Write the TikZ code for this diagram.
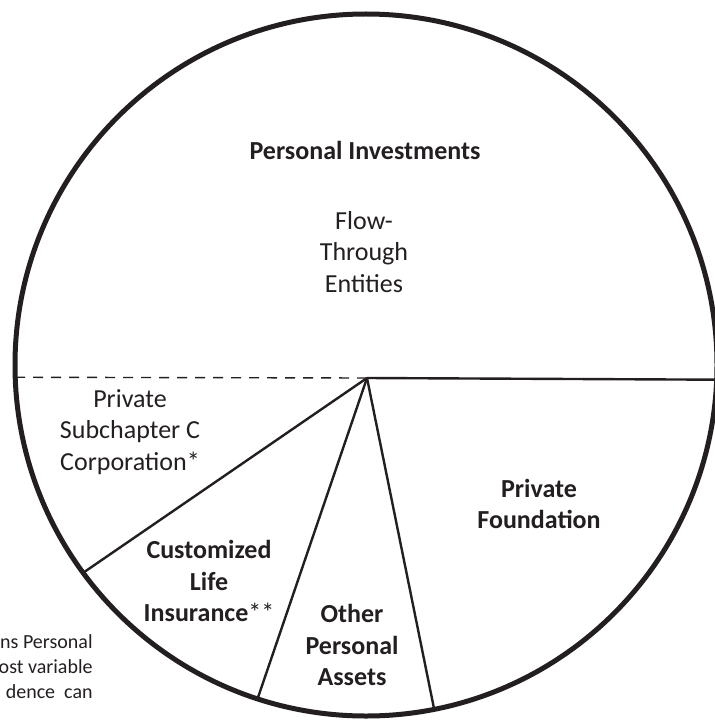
\documentclass[tikz,border=0pt]{standalone}
\usepackage{fontspec}
\setmainfont{Carlito}
\usepackage{tikz}
\definecolor{ink}{HTML}{231F20}

\begin{document}
\begin{tikzpicture}[x=0.5pt, y=-0.5pt,
    rim/.style = {line width=2.5pt, draw=ink},
    cut/.style = {line width=1.2pt, draw=ink},
    label/.style = {align=center, text=ink, inner sep=0pt, font=\fontsize{13}{15.75}\selectfont},
    boldlabel/.style = {label, font=\fontsize{13}{15.75}\selectfont\bfseries}]
  \useasboundingbox (0,0) rectangle (715,722);

  % pie and its slices
  \coordinate (c) at (366,365);
  \coordinate (o) at (367,378);
  \coordinate (west) at ([shift={(178:351)}]c);
  \coordinate (east) at ([shift={(2.4:351)}]c);
  \coordinate (life) at ([shift={(143.7:351)}]c);
  \coordinate (other) at ([shift={(108:351)}]c);
  \coordinate (found) at ([shift={(78.8:351)}]c);

  \draw[ink, line width=0.7pt, dash pattern=on 5pt off 4pt] (west) -- (o);
  \draw[cut] (o) -- (east);
  \draw[cut] (o) -- (life);
  \draw[cut] (o) -- (other);
  \draw[cut] (o) -- (found);
  \draw[rim] (c) circle [radius=351];

  % slice labels
  \node[boldlabel] (invest) at (365,150) {Personal Investments};
  \node[label] (flow) at (364,252) {Flow-\\Through\\Entities};
  \node[label] (corp) at (130,432) {Private\\Subchapter C\\Corporation*};
  \node[boldlabel] (insur) at (209,581) {Customized\\Life\\Insurance{\mdseries**}};
  \node[boldlabel] (assets) at (352,645) {Other\\Personal\\Assets};
  \node[boldlabel] (found) at (539,504) {Private\\Foundation};

  % side note
  \node[label, anchor=north east, align=right, font=\fontsize{10}{12.5}\selectfont]
    (note) at (93,634) {ns Personal\\ost variable\\dence\ \ can};
\end{tikzpicture}
\end{document}
